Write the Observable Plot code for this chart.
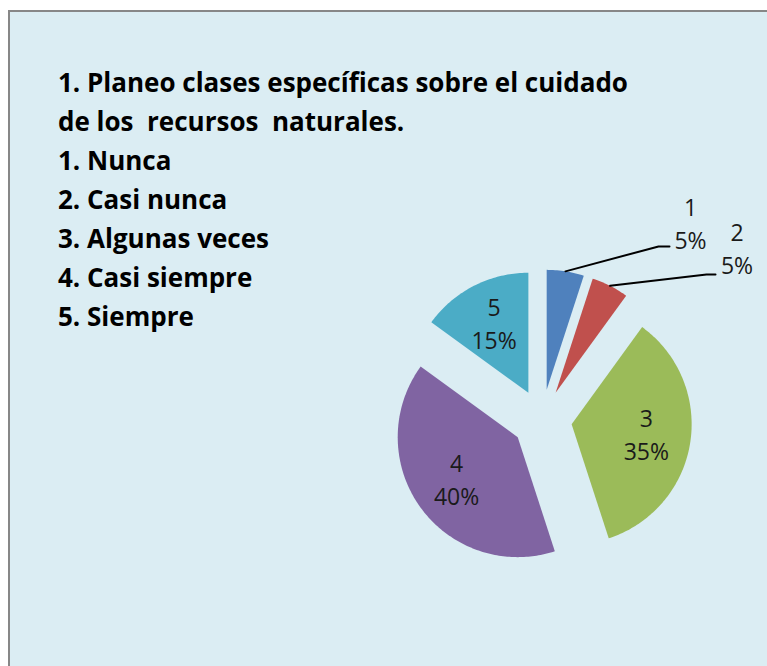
<!DOCTYPE html>
<html><head><meta charset="utf-8">
<script src="https://cdn.jsdelivr.net/npm/d3@7"></script>
<script src="https://cdn.jsdelivr.net/npm/@observablehq/plot@0.6"></script>
<style>
html,body{margin:0;padding:0;background:#fff;}
#page{position:relative;width:767px;height:666px;overflow:hidden;}
#frame{position:absolute;left:8px;top:10px;width:800px;height:700px;background:#dbedf3;border-left:2px solid #878787;border-top:2px solid #878787;}
#title{position:absolute;left:58px;top:63px;width:0;font-family:"Open Sans",sans-serif;font-weight:700;font-size:26px;line-height:39px;color:#000;}
#title div{width:max-content;white-space:pre;}
#chart{position:absolute;left:0;top:0;}
</style>
</head><body>
<div id="page"><div id="frame"></div><div id="chart"></div><div id="title"></div></div>
<script>
// ---- data ----
const categories = ["1", "2", "3", "4", "5"];
const values = [5, 5, 35, 40, 15];
const percentLabels = ["5%", "5%", "35%", "40%", "15%"];
const colors = ["#4f81bd", "#c0504d", "#9bbb59", "#8064a2", "#4bacc6"];
const titleLines = [
  "1. Planeo clases específicas sobre el cuidado",
  "de los  recursos  naturales.",
  "1. Nunca",
  "2. Casi nunca",
  "3. Algunas veces",
  "4. Casi siempre",
  "5. Siempre"
];

// ---- layout (pixels / unit radius) ----
const CX = 541.5, CY = 419, R = 120;
const EXPLODE = 0.25;      // in radius units
const LABEL_R = 0.63;      // inside label distance from exploded apex
const LINE_GAP = 16.5;     // half distance between label lines, px
const outsideSlices = ["1", "2"];
const outsideLayout = {    // unit-space elbow, line end, text centre
  "1": {elbow: [0.971, 1.442], end: [1.0625, 1.442], text: [1.2375, 1.621]},
  "2": {elbow: [1.371, 1.208], end: [1.446, 1.208], text: [1.625, 1.4125]}
};

const titleEl = document.getElementById("title");
titleLines.forEach(t => {
  const d = document.createElement("div");
  d.textContent = t;
  titleEl.appendChild(d);
});

const arcs = d3.pie().sort(null).value(d => d)(values);
const slicePts = [];
const labels = [];
const leaders = [];
arcs.forEach((a, i) => {
  const key = categories[i];
  const mid = (a.startAngle + a.endAngle) / 2;
  const ox = EXPLODE * Math.sin(mid), oy = EXPLODE * Math.cos(mid);
  slicePts.push({key, x: ox, y: oy});
  const n = Math.max(2, Math.ceil((a.endAngle - a.startAngle) / (Math.PI / 180)));
  for (let k = 0; k <= n; ++k) {
    const t = a.startAngle + (a.endAngle - a.startAngle) * k / n;
    slicePts.push({key, x: ox + Math.sin(t), y: oy + Math.cos(t)});
  }
  if (outsideSlices.includes(key)) {
    const L = outsideLayout[key];
    leaders.push({key, x: ox + Math.sin(mid), y: oy + Math.cos(mid)});
    leaders.push({key, x: L.elbow[0], y: L.elbow[1]});
    leaders.push({key, x: L.end[0], y: L.end[1]});
    labels.push({key, pct: percentLabels[i], x: L.text[0], y: L.text[1]});
  } else {
    labels.push({key, pct: percentLabels[i], x: ox + LABEL_R * Math.sin(mid), y: oy + LABEL_R * Math.cos(mid)});
  }
});

const textOpts = {x: "x", y: "y", fontSize: 23, fill: "#1a1a1a", fontFamily: "Open Sans",
  textAnchor: "middle", lineAnchor: "middle"};

const chart = Plot.plot({
  width: 767,
  height: 666,
  margin: 0,
  axis: null,
  x: {domain: [-1, 1], range: [CX - R, CX + R]},
  y: {domain: [-1, 1], range: [CY + R, CY - R]},
  color: {domain: categories, range: colors},
  style: {background: "transparent", overflow: "visible"},
  marks: [
    Plot.line(slicePts, {x: "x", y: "y", z: "key", fill: "key", stroke: null, curve: "linear-closed"}),
    Plot.line(leaders, {x: "x", y: "y", z: "key", stroke: "#000", strokeWidth: 2}),
    Plot.text(labels, {...textOpts, text: "key", dy: -LINE_GAP}),
    Plot.text(labels, {...textOpts, text: "pct", dy: LINE_GAP})
  ]
});
document.getElementById("chart").appendChild(chart);
</script>
</body></html>
